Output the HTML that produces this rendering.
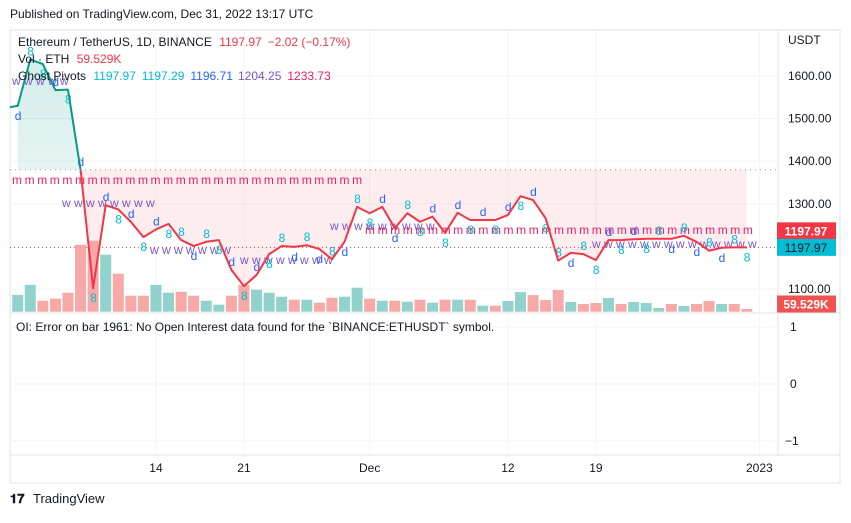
<!DOCTYPE html>
<html><head><meta charset="utf-8"><style>
body{margin:0;background:#fff;font-family:"Liberation Sans",sans-serif;}
svg text{font-family:"Liberation Sans",sans-serif;}
</style></head><body>
<svg id="c" width="851" height="518" xmlns="http://www.w3.org/2000/svg">
<defs>
<clipPath id="plot"><rect x="10" y="30" width="768" height="283"/></clipPath>
<clipPath id="above"><rect x="10" y="30" width="768" height="140"/></clipPath>
<clipPath id="below"><rect x="10" y="170" width="768" height="143"/></clipPath>
<linearGradient id="tg" x1="0" y1="0" x2="0" y2="1"><stop offset="0" stop-color="#26a69a" stop-opacity="0.2"/><stop offset="1" stop-color="#26a69a" stop-opacity="0.03"/></linearGradient>
</defs>
<text x="10" y="18" font-size="12" fill="#131722">Published on TradingView.com, Dec 31, 2022 13:17 UTC</text>
<rect x="10" y="30" width="830" height="453" fill="none" stroke="#e0e3eb"/>
<line x1="778" y1="30" x2="778" y2="455" stroke="#e0e3eb"/>
<line x1="10" y1="313" x2="840" y2="313" stroke="#e0e3eb"/>
<line x1="10" y1="455" x2="840" y2="455" stroke="#e0e3eb"/>
<g id="grid"></g>
<g id="fills" clip-path="url(#plot)"></g>
<g id="vol" clip-path="url(#plot)"></g>
<g id="markers" clip-path="url(#plot)"></g>
<g id="line" clip-path="url(#plot)"></g>
<g id="axes"></g>
<text x="18" y="46" font-size="12" fill="#131722">Ethereum / TetherUS, 1D, BINANCE <tspan fill="#f23645" dx="4">1197.97</tspan><tspan fill="#f23645" dx="6">−2.02 (−0.17%)</tspan></text>
<text x="18" y="63" font-size="12" fill="#131722">Vol · ETH <tspan fill="#f23645" dx="4">59.529K</tspan></text>
<text x="18" y="80" font-size="12" fill="#131722">Ghost Pivots <tspan fill="#00bcd4" dx="4">1197.97</tspan><tspan fill="#00bcd4" dx="6">1197.29</tspan><tspan fill="#2962ff" dx="6">1196.71</tspan><tspan fill="#7e57c2" dx="6">1204.25</tspan><tspan fill="#e91e63" dx="6">1233.73</tspan></text>
<text x="16" y="331" font-size="12" fill="#131722">OI: Error on bar 1961: No Open Interest data found for the `BINANCE:ETHUSDT` symbol.</text>
<text x="788" y="44" font-size="12" fill="#131722">USDT</text>
<g><text x="10" y="503" font-size="13" font-weight="bold" fill="#131722">𝟏𝟕</text><text x="33" y="503" font-size="13" fill="#131722">TradingView</text></g>
</svg>
<script>
const priceTicks=[1600,1500,1400,1300,1100];
const oiTicks=[1,0,-1];
const timeTicks=['14','21','Dec','12','19','2023'];
const timeTickDays=[11,18,28,39,46,59];
const closes=[1530,1639,1628,1567,1568,1380,1102,1297,1287,1258,1222,1240,1253,1215,1201,1211,1215,1145,1107,1133,1182,1201,1199,1203,1194,1170,1211,1293,1278,1293,1243,1278,1258,1270,1232,1279,1262,1262,1262,1274,1318,1309,1266,1167,1185,1182,1168,1215,1215,1217,1218,1218,1218,1225,1211,1190,1197,1198,1198];
const volumes=[370,590,242,286,418,1474,1562,1254,836,352,352,590,418,440,352,242,154,352,590,484,418,330,264,264,198,308,330,528,286,242,242,220,264,198,264,264,264,132,132,235,431,365,257,477,213,169,191,301,169,213,191,81,169,125,169,235,169,169,59.5];
const volUp=[1,1,0,0,0,0,0,1,0,0,0,1,1,0,0,1,1,0,0,1,1,1,0,1,0,0,1,1,0,1,0,1,0,1,0,1,0,1,0,1,1,0,0,0,1,0,0,1,0,1,1,1,0,1,0,0,1,0,0];
const markerLabels=['d','8','8','d','8','d','8','d','8','d','8','d','8','8','d','8','8','d','8','d','8','8','d','8','d','8','d','8','8','d'];
const lastPrice=1197.97;
const baseline=1380;
const NS='http://www.w3.org/2000/svg';
const x=i=>17.7+i*12.57;
const y=p=>76+(1600-p)*0.4262;
const vy=v=>311.7-v/22;
const oy=v=>384-v*57;
function mk(t,a,parent){const e=document.createElementNS(NS,t);for(const k in a)e.setAttribute(k,a[k]);document.getElementById(parent).appendChild(e);return e;}
priceTicks.forEach(p=>{
 const g=mk('line',{x1:10,x2:778,y1:y(p),y2:y(p),stroke:'#f0f3fa'},'grid');
 
 
 const t=mk('text',{x:788,y:y(p)+4,'font-size':12,fill:'#131722'},'axes');t.textContent=p.toFixed(2);
 
 
});
oiTicks.forEach(v=>{
 mk('line',{x1:10,x2:778,y1:oy(v),y2:oy(v),stroke:'#f0f3fa'},'grid');
 const t=mk('text',{x:v<0?785:790,y:oy(v)+4,'font-size':12,fill:'#131722'},'axes');t.textContent=v<0?'−1':String(v);
 
 
});
timeTicks.forEach((l,k)=>{
 const xx=x(timeTickDays[k]);
 mk('line',{x1:xx,x2:xx,y1:30,y2:455,stroke:'#f0f3fa'},'grid');
 const t=mk('text',{x:xx,y:472,'font-size':12,fill:'#131722','text-anchor':'middle'},'axes');t.textContent=l;
 
 
});
mk('line',{x1:10,x2:778,y1:y(baseline),y2:y(baseline),stroke:'#9598a1','stroke-dasharray':'1 4'},'fills');
let pts=closes.map((c,i)=>x(i)+','+y(c)).join(' ');
const poly=`${x(0)},${y(baseline)} ${pts} ${x(closes.length-1)},${y(baseline)}`;
mk('polygon',{points:poly,fill:'url(#tg)','clip-path':'url(#above)'},'fills');
mk('polygon',{points:poly,fill:'#f23645','fill-opacity':0.09,'clip-path':'url(#below)'},'fills');
mk('line',{x1:10,x2:778,y1:y(lastPrice),y2:y(lastPrice),stroke:'#f23645','stroke-dasharray':'1 3'},'fills');
volumes.forEach((v,i)=>{
 const r=mk('rect',{x:x(i)-5.5,y:vy(v),width:11,height:311.7-vy(v),fill:volUp[i]?'#92d2cc':'#f7a9a7'},'vol');
 
 
});
const rows=[[12,184,'#e91e63','m'.repeat(28),2.6],[62,207,'#7e57c2','w w w w w w w w',0],[12,85,'#7e57c2','w w w w w',0],[150,254,'#7e57c2','w w w w w w w',0],[240,264,'#7e57c2','w w w w w w w w',0],[330,230,'#7e57c2','w w w w w w w w w',0],[365,234,'#e91e63','m'.repeat(31),2.6],[592,248,'#7e57c2','w w w w w w w w w w w w w w',0]];
rows.forEach(r=>{const t=mk('text',{x:r[0],y:r[1],'font-size':12,fill:r[2],'letter-spacing':r[4]},'markers');t.textContent=r[3];
 
 });
closes.forEach((c,i)=>{
 const l=markerLabels[i%markerLabels.length];
 const t=mk('text',{x:x(i)-3,y:y(c)+(i%2?-4:14),'font-size':12,fill:l==='8'?'#00bcd4':'#2962ff'},'markers');t.textContent=l;
 
 
});
const red=closes.map((c,i)=>x(i)+','+y(c)).slice(5).join(' ');
const grn=closes.map((c,i)=>x(i)+','+y(c)).slice(0,6).join(' ');
const lr=mk('polyline',{points:red,fill:'none',stroke:'#f23645','stroke-width':2,'stroke-linejoin':'round'},'line');


const lg=mk('polyline',{points:'5,'+y(1525)+' '+grn,fill:'none',stroke:'#089981','stroke-width':2,'stroke-linejoin':'round'},'line');


function badge(yc,bg,txt,col,name){
 const r=mk('rect',{x:777,y:yc-8.5,width:59,height:17,fill:bg},'axes');
 
 
 const t=mk('text',{x:806,y:yc+4.5,'font-size':12,'font-weight':col==='#fff'?'bold':'normal',fill:col,'text-anchor':'middle'},'axes');t.textContent=txt;
}
badge(y(lastPrice)-16.5,'#f23645','1197.97','#fff','last-price-badge');
badge(y(lastPrice),'#00bcd4','1197.97','#131722','pivot-price-badge');
badge(304,'#ef5350','59.529K','#fff','volume-badge');
</script>
</body></html>
